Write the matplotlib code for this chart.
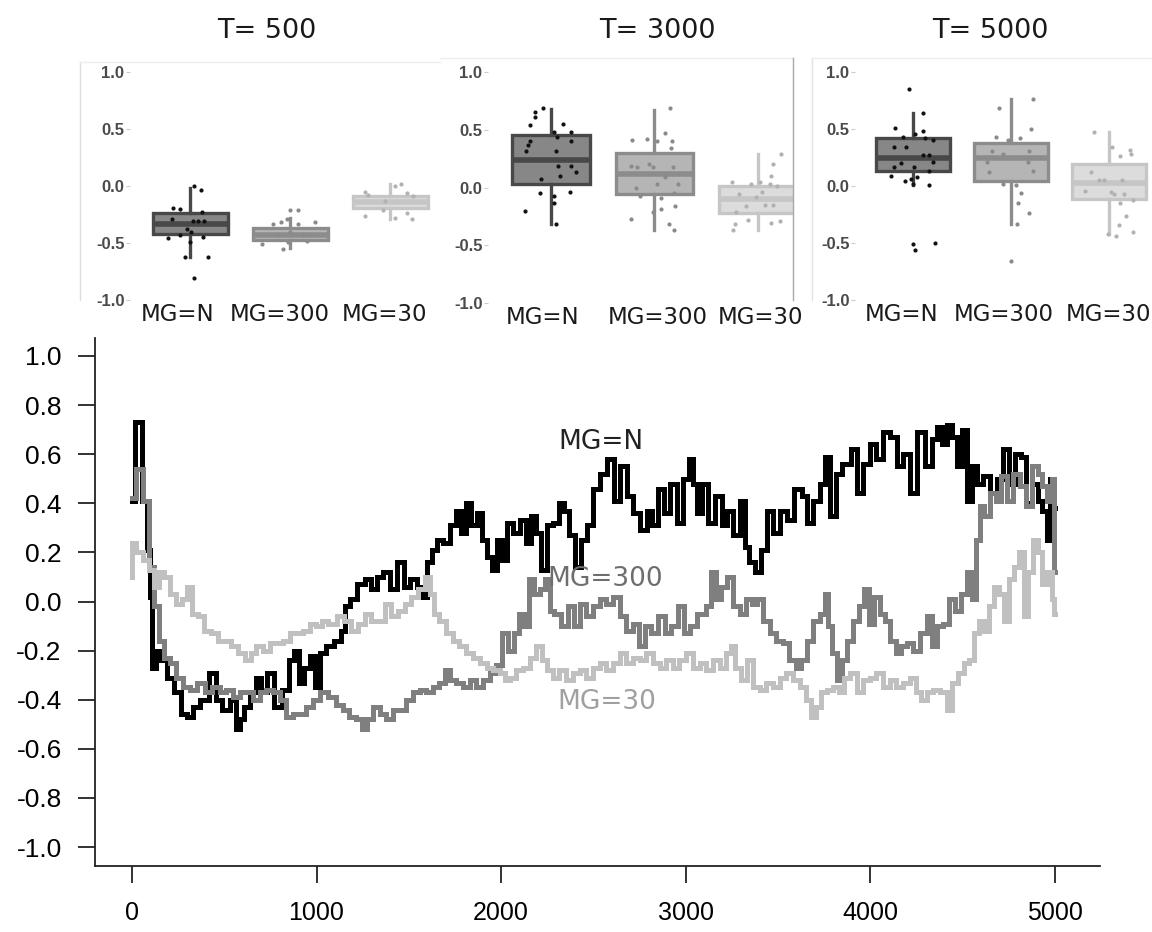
import matplotlib
matplotlib.use('Agg')
import matplotlib.pyplot as plt
from matplotlib.lines import Line2D

# ---- main chart: (time step, value) ----
mg_n = [(0, 0.41), (34, 0.73), (70, 0.41), (88, 0.21), (106, 0.02), (113, -0.27), (143, -0.20), (170, -0.24),
        (206, -0.31), (250, -0.37), (286, -0.46), (313, -0.47), (349, -0.43), (386, -0.40), (449, -0.29),
        (467, -0.40), (512, -0.44), (548, -0.40), (575, -0.52), (594, -0.48), (621, -0.43), (657, -0.37),
        (684, -0.31), (711, -0.37), (756, -0.29), (783, -0.43), (838, -0.36), (865, -0.24), (892, -0.20),
        (919, -0.33), (946, -0.27), (982, -0.22), (1000, -0.35), (1036, -0.21), (1072, -0.18), (1117, -0.16),
        (1144, -0.12), (1162, -0.02), (1199, 0.01), (1243, 0.07), (1280, 0.09), (1307, 0.05), (1343, 0.10),
        (1379, 0.12), (1415, 0.05), (1460, 0.16), (1487, 0.06), (1524, 0.09), (1560, 0.06), (1587, 0.02),
        (1605, 0.16), (1641, 0.21), (1668, 0.25), (1704, 0.24), (1740, 0.31), (1768, 0.37), (1795, 0.28),
        (1822, 0.40), (1849, 0.31), (1885, 0.36), (1912, 0.25), (1939, 0.18), (1966, 0.13), (1993, 0.25),
        (2020, 0.17), (2047, 0.32), (2083, 0.28), (2119, 0.33), (2146, 0.24), (2173, 0.35), (2200, 0.28),
        (2237, 0.13), (2264, 0.31), (2300, 0.32), (2327, 0.40), (2354, 0.37), (2381, 0.27), (2417, 0.14),
        (2444, 0.25), (2481, 0.31), (2517, 0.46), (2553, 0.52), (2598, 0.58), (2625, 0.41), (2661, 0.55),
        (2698, 0.43), (2734, 0.36), (2770, 0.29), (2806, 0.37), (2833, 0.31), (2869, 0.46), (2896, 0.36),
        (2932, 0.48), (2969, 0.32), (3005, 0.50), (3027, 0.58), (3049, 0.48), (3076, 0.36), (3103, 0.48),
        (3139, 0.32), (3176, 0.43), (3212, 0.31), (3239, 0.37), (3275, 0.27), (3311, 0.41), (3329, 0.22),
        (3356, 0.16), (3393, 0.12), (3420, 0.21), (3456, 0.37), (3492, 0.28), (3528, 0.37), (3564, 0.33),
        (3609, 0.46), (3646, 0.43), (3673, 0.32), (3709, 0.41), (3745, 0.48), (3763, 0.59), (3799, 0.35),
        (3826, 0.52), (3872, 0.56), (3916, 0.62), (3943, 0.44), (3979, 0.56), (4015, 0.64), (4051, 0.58),
        (4087, 0.69), (4124, 0.67), (4160, 0.55), (4196, 0.60), (4232, 0.44), (4277, 0.69), (4313, 0.55),
        (4350, 0.66), (4377, 0.71), (4404, 0.64), (4431, 0.72), (4458, 0.67), (4485, 0.55), (4512, 0.70),
        (4539, 0.41), (4566, 0.55), (4594, 0.48), (4630, 0.51), (4666, 0.44), (4702, 0.50), (4738, 0.62),
        (4765, 0.48), (4801, 0.60), (4829, 0.59), (4856, 0.40), (4892, 0.48), (4919, 0.41), (4946, 0.37),
        (4964, 0.25), (4982, 0.50), (5000, 0.38)]

mg_300 = [(0, 0.42), (43, 0.54), (79, 0.41), (106, 0.14), (133, -0.02), (160, -0.16), (187, -0.23), (223, -0.25),
          (259, -0.31), (295, -0.35), (331, -0.36), (376, -0.33), (412, -0.37), (457, -0.35), (493, -0.37),
          (529, -0.36), (565, -0.39), (601, -0.37), (638, -0.37), (674, -0.40), (710, -0.37), (746, -0.36),
          (782, -0.37), (818, -0.40), (854, -0.47), (890, -0.46), (926, -0.46), (962, -0.43), (998, -0.40),
          (1042, -0.37), (1087, -0.39), (1123, -0.42), (1159, -0.44), (1195, -0.47), (1233, -0.48), (1260, -0.52),
          (1288, -0.48), (1324, -0.43), (1360, -0.46), (1396, -0.48), (1432, -0.44), (1468, -0.44), (1504, -0.40),
          (1540, -0.37), (1576, -0.36), (1612, -0.37), (1648, -0.35), (1684, -0.33), (1711, -0.28), (1738, -0.32),
          (1776, -0.33), (1812, -0.35), (1848, -0.32), (1884, -0.35), (1920, -0.32), (1956, -0.29), (1992, -0.26),
          (2019, -0.13), (2055, -0.20), (2082, -0.13), (2109, -0.05), (2136, -0.10), (2163, 0.09), (2190, 0.03),
          (2226, 0.05), (2253, 0.09), (2271, -0.04), (2307, -0.05), (2343, -0.10), (2379, -0.02), (2406, -0.10),
          (2444, -0.01), (2480, -0.06), (2516, -0.02), (2552, 0.01), (2588, -0.01), (2624, 0.02), (2660, -0.06),
          (2696, -0.12), (2732, -0.09), (2759, -0.18), (2795, -0.10), (2831, -0.13), (2867, -0.06), (2903, -0.13),
          (2939, -0.10), (2975, -0.02), (3002, -0.13), (3041, -0.10), (3077, -0.05), (3094, -0.05), (3121, -0.02),
          (3148, 0.12), (3175, 0.01), (3211, 0.06), (3238, 0.10), (3274, -0.02), (3310, -0.05), (3346, 0.01),
          (3373, -0.01), (3400, 0.01), (3436, -0.08), (3472, -0.13), (3508, -0.16), (3544, -0.17), (3580, -0.24),
          (3610, -0.27), (3637, -0.24), (3673, -0.16), (3709, -0.08), (3745, -0.05), (3763, 0.03), (3781, -0.10),
          (3808, -0.21), (3835, -0.32), (3862, -0.24), (3889, -0.16), (3925, -0.08), (3952, -0.02), (3979, 0.05),
          (4006, -0.09), (4032, 0.02), (4068, -0.05), (4086, -0.08), (4125, -0.16), (4152, -0.21), (4179, -0.18),
          (4215, -0.17), (4251, -0.20), (4287, -0.13), (4323, -0.06), (4350, -0.18), (4377, -0.10), (4413, -0.09),
          (4440, 0.01), (4476, -0.04), (4503, 0.03), (4539, 0.12), (4566, 0.01), (4584, 0.25), (4602, 0.39),
          (4629, 0.35), (4665, 0.44), (4692, 0.41), (4719, 0.51), (4757, 0.41), (4793, 0.52), (4829, 0.47),
          (4856, 0.39), (4892, 0.55), (4919, 0.52), (4946, 0.47), (4973, 0.41), (4991, 0.50), (5000, 0.12)]

mg_30 = [(0, 0.10), (5, 0.24), (43, 0.20), (79, 0.17), (106, 0.13), (133, 0.06), (160, 0.12), (187, 0.10),
         (223, 0.03), (259, -0.01), (285, 0.01), (312, 0.06), (339, -0.05), (375, -0.06), (411, -0.12),
         (447, -0.13), (483, -0.16), (519, -0.16), (555, -0.18), (591, -0.21), (629, -0.24), (656, -0.21),
         (692, -0.18), (728, -0.20), (764, -0.17), (800, -0.17), (836, -0.16), (872, -0.13), (908, -0.13),
         (944, -0.12), (980, -0.09), (1016, -0.10), (1042, -0.08), (1087, -0.09), (1132, -0.06), (1168, -0.08),
         (1204, -0.12), (1243, -0.09), (1279, -0.05), (1315, -0.08), (1351, -0.08), (1387, -0.01), (1423, -0.06),
         (1459, -0.04), (1495, -0.01), (1531, 0.02), (1567, 0.05), (1603, 0.10), (1621, 0.03), (1648, -0.05),
         (1684, -0.08), (1720, -0.13), (1756, -0.16), (1792, -0.18), (1831, -0.21), (1867, -0.23), (1903, -0.25),
         (1939, -0.27), (1975, -0.28), (2010, -0.29), (2028, -0.32), (2064, -0.31), (2100, -0.28), (2136, -0.27),
         (2172, -0.23), (2208, -0.18), (2235, -0.24), (2262, -0.28), (2298, -0.31), (2334, -0.28), (2370, -0.32),
         (2406, -0.29), (2444, -0.28), (2480, -0.31), (2516, -0.27), (2552, -0.25), (2588, -0.28), (2624, -0.25),
         (2660, -0.21), (2696, -0.25), (2732, -0.23), (2768, -0.24), (2804, -0.21), (2840, -0.25), (2876, -0.27),
         (2912, -0.24), (2948, -0.27), (2984, -0.24), (3023, -0.21), (3058, -0.27), (3094, -0.25), (3130, -0.28),
         (3166, -0.24), (3202, -0.27), (3238, -0.21), (3256, -0.18), (3283, -0.27), (3319, -0.32), (3346, -0.24),
         (3382, -0.35), (3418, -0.36), (3454, -0.33), (3490, -0.35), (3526, -0.31), (3562, -0.29), (3598, -0.32),
         (3637, -0.35), (3664, -0.40), (3691, -0.47), (3718, -0.43), (3745, -0.37), (3781, -0.36), (3817, -0.35),
         (3844, -0.37), (3871, -0.31), (3907, -0.29), (3943, -0.37), (3979, -0.32), (4015, -0.31), (4050, -0.29),
         (4086, -0.35), (4122, -0.32), (4158, -0.35), (4194, -0.33), (4233, -0.31), (4260, -0.37), (4287, -0.40),
         (4323, -0.37), (4359, -0.36), (4395, -0.37), (4431, -0.44), (4458, -0.33), (4494, -0.29), (4521, -0.25),
         (4548, -0.24), (4575, -0.13), (4602, -0.08), (4629, -0.12), (4656, -0.02), (4683, 0.06), (4710, 0.03),
         (4737, -0.08), (4764, 0.09), (4791, 0.14), (4820, 0.20), (4847, -0.06), (4865, 0.12), (4892, 0.25),
         (4919, 0.20), (4946, 0.07), (4973, 0.12), (4991, 0.01), (5000, -0.05)]

series_names = ['MG=N', 'MG=300', 'MG=30']
series_colors = ['#000000', '#7f7f7f', '#c0c0c0']
label_colors = ['#222222', '#6e6e6e', '#a0a0a0']
label_pos = [(2540, 0.65), (2565, 0.09), (2570, -0.41)]

# ---- small box plots: whislo, q1, median, q3, whishi ----
panel_titles = ['T= 500', 'T= 3000', 'T= 5000']
box_500 = [(-0.62, -0.42, -0.33, -0.235, -0.015), (-0.54, -0.47, -0.43, -0.37, -0.28), (-0.29, -0.19, -0.14, -0.09, 0.015)]
box_3000 = [(-0.32, 0.03, 0.24, 0.455, 0.68), (-0.37, -0.06, 0.12, 0.30, 0.67), (-0.37, -0.22, -0.10, 0.01, 0.29)]
box_5000 = [(0.01, 0.13, 0.25, 0.42, 0.64), (-0.33, 0.04, 0.25, 0.375, 0.76), (-0.42, -0.11, 0.03, 0.19, 0.47)]

# jittered points: (offset from box centre, value)
pts_500_n = [(0.04, 0.0), (0.11, -0.035), (-0.17, -0.19), (-0.10, -0.20), (-0.18, -0.29), (0.12, -0.23), (0.03, -0.31),
             (0.08, -0.31), (0.14, -0.31), (-0.03, -0.38), (0.01, -0.40), (-0.22, -0.46), (0.13, -0.45), (-0.05, -0.62),
             (0.18, -0.62), (0.04, -0.81), (0.0, -0.49), (-0.10, -0.43)]
pts_500_300 = [(0.0, -0.21), (0.08, -0.21), (-0.03, -0.29), (-0.17, -0.33), (-0.09, -0.32), (0.08, -0.33), (0.25, -0.32),
               (0.0, -0.40), (0.13, -0.43), (0.17, -0.48), (-0.28, -0.51), (-0.07, -0.55), (-0.02, -0.49), (-0.13, -0.43)]
pts_500_30 = [(-0.25, -0.05), (-0.22, -0.08), (0.05, 0.0), (0.11, 0.02), (0.17, -0.06), (0.23, -0.09), (-0.05, -0.13),
              (-0.25, -0.26), (0.05, -0.28), (0.17, -0.24), (0.22, -0.29), (-0.07, -0.21)]
pts_3000_n = [(-0.08, 0.685), (-0.16, 0.65), (-0.16, 0.61), (-0.20, 0.54), (0.12, 0.55), (0.03, 0.48), (0.19, 0.48),
              (-0.20, 0.40), (-0.22, 0.37), (-0.24, 0.32), (0.06, 0.44), (0.19, 0.40), (0.05, 0.32), (0.07, 0.185),
              (0.19, 0.185), (0.24, 0.13), (0.09, 0.10), (-0.10, 0.07), (-0.11, -0.05), (0.18, -0.04), (0.03, -0.07),
              (0.03, -0.13), (-0.25, -0.20), (0.05, -0.32)]
pts_3000_300 = [(0.15, 0.69), (-0.22, 0.41), (-0.07, 0.42), (0.02, 0.40), (0.10, 0.47), (0.17, 0.40), (0.16, 0.34),
                (-0.23, 0.19), (-0.17, 0.18), (-0.05, 0.20), (-0.01, 0.18), (0.18, 0.18), (0.10, 0.09), (-0.18, 0.0),
                (0.02, 0.03), (0.23, 0.03), (-0.14, -0.07), (0.19, -0.05), (0.06, -0.09), (0.20, -0.16), (0.06, -0.19),
                (-0.01, -0.21), (-0.23, -0.27), (0.14, -0.32), (0.19, -0.37)]
pts_3000_30 = [(-0.25, 0.05), (-0.07, 0.03), (0.02, 0.045), (0.13, 0.10), (0.15, 0.20), (0.22, 0.29), (0.12, 0.03),
               (0.19, 0.015), (-0.18, -0.06), (0.04, -0.04), (-0.02, -0.08), (-0.11, -0.16), (0.07, -0.15), (0.15, -0.15),
               (-0.21, -0.21), (-0.10, -0.28), (-0.22, -0.32), (-0.24, -0.37), (0.13, -0.31), (0.21, -0.29)]
pts_5000_n = [(-0.04, 0.85), (0.10, 0.64), (-0.18, 0.51), (0.02, 0.46), (0.10, 0.48), (-0.19, 0.34), (-0.07, 0.34),
              (-0.10, 0.43), (0.12, 0.42), (0.21, 0.40), (0.10, 0.27), (0.16, 0.27), (-0.12, 0.20), (-0.19, 0.17),
              (0.01, 0.17), (0.21, 0.21), (0.17, 0.13), (-0.22, 0.09), (-0.08, 0.045), (-0.02, 0.06), (0.04, 0.08),
              (0.0, 0.02), (0.17, 0.01), (0.02, -0.56), (0.23, -0.50), (0.0, -0.51)]
pts_5000_300 = [(0.23, 0.76), (-0.12, 0.68), (-0.15, 0.43), (0.21, 0.50), (-0.03, 0.40), (0.09, 0.42), (-0.19, 0.31),
                (0.19, 0.31), (-0.08, 0.28), (-0.24, 0.21), (0.18, 0.21), (-0.22, 0.12), (0.23, 0.13), (-0.08, 0.02),
                (0.05, 0.01), (0.10, -0.06), (0.07, -0.15), (0.19, -0.24), (0.06, -0.33), (0.0, -0.66)]
pts_5000_30 = [(-0.15, 0.47), (0.03, 0.345), (0.22, 0.32), (0.23, 0.28), (0.11, 0.26), (-0.18, 0.12), (-0.10, 0.05),
               (-0.05, 0.05), (0.13, 0.05), (-0.24, -0.04), (0.02, -0.05), (0.05, -0.07), (0.15, -0.07), (0.25, -0.125),
               (0.11, -0.15), (0.17, -0.26), (0.10, -0.34), (-0.01, -0.42), (0.07, -0.44), (0.25, -0.40)]

box_fill = ['#878787', '#b5b5b5', '#dcdcdc']
box_edge = ['#484848', '#8c8c8c', '#c6c6c6']
dot_color = ['#111111', '#8a8a8a', '#b2b2b2']

W, H = 1152, 932
fig = plt.figure(figsize=(W / 100, H / 100), dpi=100)


def fbox(l, t, r, b):
    return [l / W, 1 - b / H, (r - l) / W, (b - t) / H]


# ---------------- main line chart ----------------
ax = fig.add_axes(fbox(95, 338, 1100, 866))
for data, c in zip([mg_n, mg_300, mg_30], series_colors):
    ax.plot([p[0] for p in data], [p[1] for p in data], color=c, lw=3.6, drawstyle='steps-mid',
            solid_joinstyle='miter')
for name, c, (tx, ty) in zip(series_names, label_colors, label_pos):
    ax.text(tx, ty, name, color=c, fontsize=19, ha='center', va='center', family='DejaVu Sans')

ax.set_xlim(-200, 5244)
ax.set_ylim(-1.077, 1.073)
ax.set_xticks([0, 1000, 2000, 3000, 4000, 5000])
ax.set_yticks([-1.0, -0.8, -0.6, -0.4, -0.2, 0.0, 0.2, 0.4, 0.6, 0.8, 1.0])
ax.set_yticklabels(['%.1f' % v for v in ax.get_yticks()])
for s in ['top', 'right']:
    ax.spines[s].set_visible(False)
for s in ['left', 'bottom']:
    ax.spines[s].set_linewidth(1.3)
    ax.spines[s].set_color('#222222')
ax.tick_params(axis='y', length=12, width=1.3, pad=12, labelsize=19, color='#222222')
ax.tick_params(axis='x', length=12, width=1.3, pad=13, labelsize=18, color='#222222')
for lab in ax.get_xticklabels() + ax.get_yticklabels():
    lab.set_family('Liberation Sans')

# ---------------- box plot panels ----------------
panels = [
    (fbox(130, 62, 440, 302), (0.4, 3.5), (-1.0175, 1.088), box_500, [pts_500_n, pts_500_300, pts_500_30], 267,
     [0.88, 1.90, 2.95]),
    (fbox(488, 58, 793, 305), (0.39, 3.34), (-1.017, 1.121), box_3000, [pts_3000_n, pts_3000_300, pts_3000_30], 657,
     [0.92, 2.03, 3.03]),
    (fbox(855, 58, 1152, 302), (0.41, 3.44), (-1.0175, 1.123), box_5000, [pts_5000_n, pts_5000_300, pts_5000_30], 990,
     [0.88, 1.93, 3.0]),
]
for (rect, xl, yl, boxes, pts, tx, lab_x), title in zip(panels, panel_titles):
    bx = fig.add_axes(rect)
    stats = [dict(whislo=b[0], q1=b[1], med=b[2], q3=b[3], whishi=b[4], fliers=[]) for b in boxes]
    art = bx.bxp(stats, positions=[1, 2, 3], widths=0.75, patch_artist=True, showcaps=False, showfliers=False,
                 manage_ticks=False)
    for i in range(3):
        art['boxes'][i].set(facecolor=box_fill[i], edgecolor=box_edge[i], linewidth=2.4)
        art['medians'][i].set(color=box_edge[i], linewidth=4)
        for w in art['whiskers'][2 * i:2 * i + 2]:
            w.set(color=box_edge[i], linewidth=2.4)
        bx.scatter([1 + i + p[0] for p in pts[i]], [p[1] for p in pts[i]], s=9, color=dot_color[i],
                   zorder=5, linewidths=0)
    bx.set_xlim(*xl)
    bx.set_ylim(*yl)
    bx.set_yticks([-1.0, -0.5, 0.0, 0.5, 1.0])
    bx.set_yticklabels(['-1.0', '-0.5', '0.0', '0.5', '1.0'], fontsize=12, fontweight='bold',
                       color='#4a4a4a', family='Liberation Sans')
    bx.set_xticks(lab_x)
    bx.set_xticklabels(series_names, fontsize=16.5, color='#1a1a1a', family='DejaVu Sans')
    bx.tick_params(axis='y', length=3, width=0.8, color='#cccccc', pad=1)
    bx.tick_params(axis='x', length=0, pad=1)
    for s in bx.spines.values():
        s.set_visible(False)
    bx.patch.set_alpha(0)
    fig.text(tx / W, 1 - 31 / H, title, fontsize=19.5, ha='center', va='center', color='#1a1a1a',
             family='DejaVu Sans')

# faint panel frames from the original composite
frame_lines = [((80, 80), (62, 300), '#dddddd'), ((80, 440), (62, 62), '#eeeeee'),
               ((440, 793), (58, 58), '#eeeeee'), ((793, 793), (58, 300), '#a8a8a8'),
               ((812, 812), (58, 300), '#e2e2e2'), ((812, 1152), (58, 58), '#eeeeee')]
for xs, ys, c in frame_lines:
    fig.add_artist(Line2D([x / W for x in xs], [1 - y / H for y in ys], color=c, lw=1.0))

fig.savefig('out.png', dpi=100)
